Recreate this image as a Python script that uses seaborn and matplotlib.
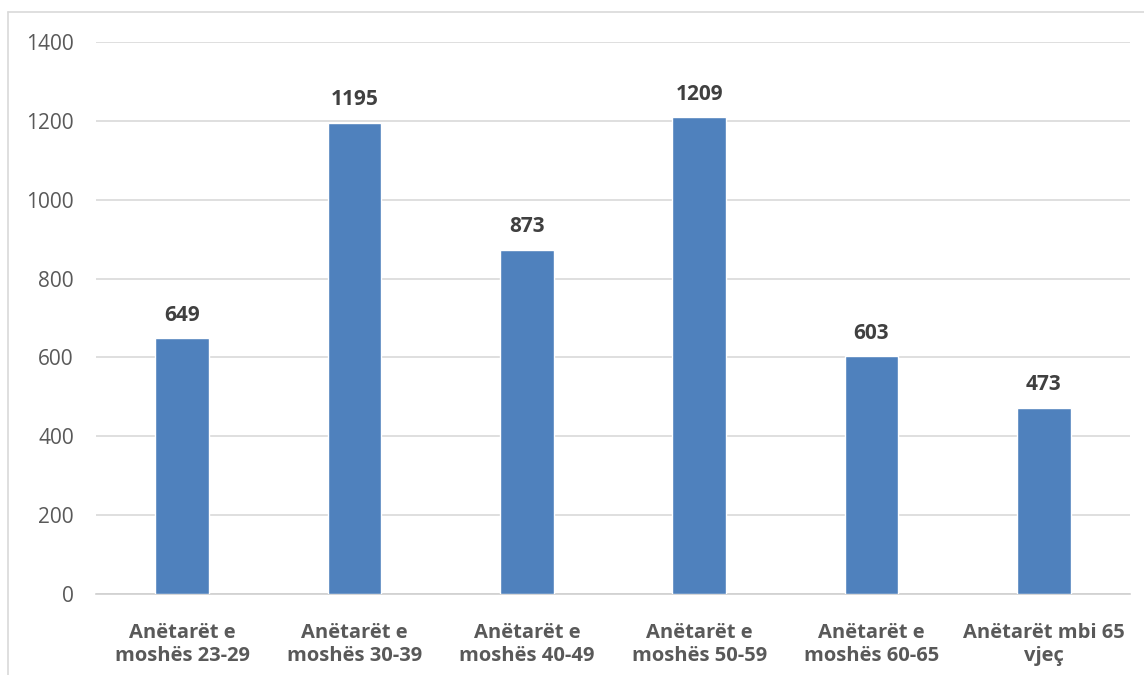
import matplotlib
matplotlib.use("Agg")
import matplotlib.pyplot as plt
import seaborn as sns
import pandas as pd
from matplotlib.lines import Line2D

categories = ["Anëtarët e\nmoshës 23-29", "Anëtarët e\nmoshës 30-39", "Anëtarët e\nmoshës 40-49",
              "Anëtarët e\nmoshës 50-59", "Anëtarët e\nmoshës 60-65", "Anëtarët mbi 65\nvjeç"]
values = [649, 1195, 873, 1209, 603, 473]
yticks = [0, 200, 400, 600, 800, 1000, 1200, 1400]

sns.set_theme(style="white")
plt.rcParams['font.family'] = ['Open Sans', 'DejaVu Sans']

df = pd.DataFrame({"cat": categories, "val": values})

fig = plt.figure(figsize=(11.44, 6.75), dpi=100)
ax = fig.add_axes([96/1144, 1-594/675, (1130-96)/1144, (594-42)/675])

sns.barplot(data=df, x="cat", y="val", color="#4f81bd", width=0.31, saturation=1, ax=ax, zorder=3)

ax.set_ylim(0, 1400)
ax.set_xlim(-0.5, len(categories)-0.5)
ax.set_yticks(yticks)
ax.set_yticklabels([str(t) for t in yticks], color="#595959", fontsize=15)
ax.yaxis.grid(True, color="#d9d9d9", linewidth=1.2, zorder=0)
ax.set_axisbelow(True)
for s in ["top", "right", "left"]:
    ax.spines[s].set_visible(False)
ax.spines["bottom"].set_color("#d0d0d0")
ax.spines["bottom"].set_linewidth(1.2)
ax.tick_params(axis="y", length=0, pad=16)
ax.set_xticks(range(len(categories)))
ax.set_xticklabels(categories, color="#595959", fontsize=14.5, fontweight="bold", linespacing=1.2)
ax.tick_params(axis="x", which="major", length=0, pad=21)
ax.set_xticks([i-0.5 for i in range(len(categories)+1)], minor=True)
ax.tick_params(axis="x", which="minor", length=9, width=1.2, color="#d0d0d0", direction="out")
ax.set_xlabel("")
ax.set_ylabel("")

for i, v in enumerate(values):
    ax.annotate(str(v), (i, v), xytext=(0, 9), textcoords="offset points", ha="center", va="bottom",
                fontsize=15, fontweight="bold", color="#404040")

# outer chart border
fig.add_artist(Line2D([8/1144, 8/1144], [0, 1-12/675], color="#d9d9d9", linewidth=1.2, transform=fig.transFigure))
fig.add_artist(Line2D([8/1144, 1], [1-12/675, 1-12/675], color="#d9d9d9", linewidth=1.2, transform=fig.transFigure))

fig.savefig("out.png", dpi=100)
